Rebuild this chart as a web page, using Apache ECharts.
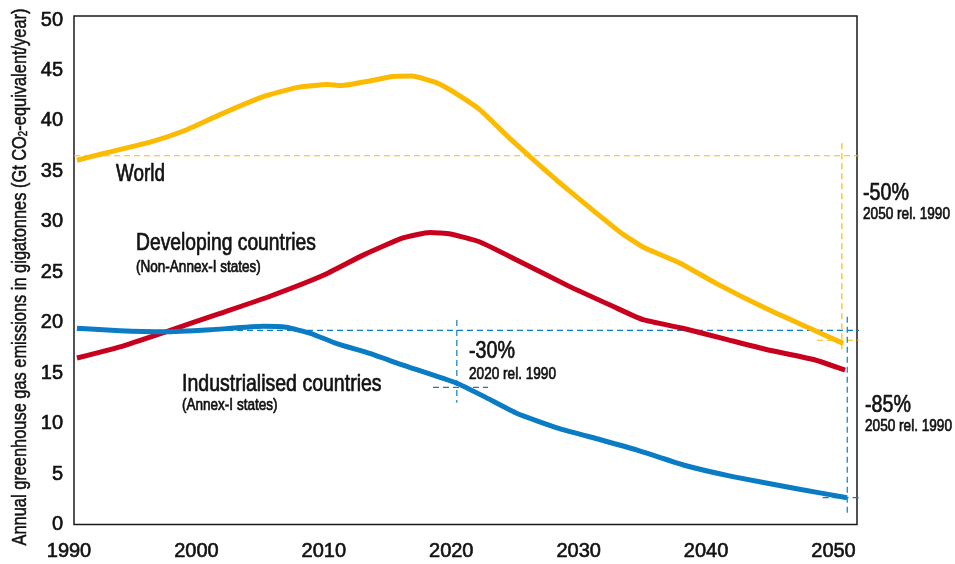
<!DOCTYPE html>
<html>
<head>
<meta charset="utf-8">
<script src="https://cdn.jsdelivr.net/npm/echarts@6/dist/echarts.min.js"></script>
<style>
html,body{margin:0;padding:0;background:#fff;}
#chart{width:955px;height:564px;}
</style>
</head>
<body>
<div id="chart"></div>
<script>
// ---- data ----
var xTickLabels = [1990, 2000, 2010, 2020, 2030, 2040, 2050];
var yTickLabels = [0, 5, 10, 15, 20, 25, 30, 35, 40, 45, 50];

var worldYears  = [1990, 1992.0, 1995.7, 1998.3, 2001.1, 2004.5, 2007.1, 2009.5, 2010.5, 2014.6, 2016.1, 2018.0, 2019.3, 2021.4, 2023.7, 2025.3, 2027.4, 2029.2, 2032.3, 2034.1, 2037.0, 2039.8, 2043.7, 2047.1, 2049.7];
var worldValues = [36.1, 36.75, 37.9, 39.0, 40.6, 42.4, 43.3, 43.6, 43.5, 44.4, 44.45, 43.8, 42.9, 41.1, 38.3, 36.45, 34.1, 32.2, 29.0, 27.5, 25.9, 23.9, 21.4, 19.45, 17.95];

var devYears  = [1990, 1993.35, 1996.7, 2001.1, 2005.0, 2009.2, 2012.3, 2015.4, 2017.5, 2019.1, 2021.4, 2024.3, 2028.2, 2031.8, 2034.1, 2037.2, 2040.6, 2043.7, 2047.4, 2049.85];
var devValues = [16.5, 17.6, 19.0, 20.9, 22.6, 24.7, 26.7, 28.4, 28.95, 28.8, 28.0, 26.2, 23.7, 21.6, 20.3, 19.45, 18.35, 17.35, 16.35, 15.3];

var indYears  = [1990, 1993.35, 1996.7, 2000.4, 2004.5, 2006.3, 2008.2, 2010.2, 2012.8, 2015.4, 2019.6, 2021.7, 2024.3, 2027.6, 2030.8, 2033.6, 2037.25, 2041.1, 2046.3, 2050.0];
var indValues = [19.45, 19.2, 19.1, 19.3, 19.65, 19.55, 18.95, 17.95, 16.95, 15.8, 14.0, 12.7, 11.0, 9.5, 8.4, 7.4, 5.9, 4.75, 3.5, 2.65];

// reference (dashed) guide lines: [x1, y1, x2, y2]
var guideYellow = [
  [1989.77, 36.55, 2051.7, 36.55],
  [2049.6, 37.8, 2049.6, 17.3],
  [2047.65, 18.26, 2052.0, 18.26]
];
var guideBlue = [
  [1990, 19.25, 2051.8, 19.25],
  [2050.02, 20.6, 2050.02, 1.15],
  [2048.1, 2.66, 2052.4, 2.66],
  [2019.6, 20.27, 2019.6, 12.07],
  [2017.74, 13.6, 2022.03, 13.6]
];

var YELLOW = '#fcba00', RED = '#c8001e', BLUE = '#0a7cc4';
var FONT = "'Liberation Sans', Arial, sans-serif";
var TXT = '#111';
var NARROW = 0.82;

function pairs(xs, ys) { return xs.map(function (x, i) { return [x, ys[i]]; }); }

var series = [];
function addGuides(list, color) {
  list.forEach(function (g) {
    series.push({
      type: 'line', xAxisIndex: 0, yAxisIndex: 0, clip: false, silent: true,
      symbol: 'none', z: 1,
      lineStyle: { color: color, width: 1.2, type: [6, 4] },
      data: [[g[0], g[1]], [g[2], g[3]]]
    });
  });
}
addGuides(guideYellow, YELLOW);
addGuides(guideBlue, BLUE);

[[worldYears, worldValues, YELLOW, 'World'],
 [devYears, devValues, RED, 'Developing countries'],
 [indYears, indValues, BLUE, 'Industrialised countries']].forEach(function (s) {
  series.push({
    type: 'line', name: s[3], xAxisIndex: 0, yAxisIndex: 0, symbol: 'none', z: 3,
    smooth: 0.15,
    lineStyle: { color: s[2], width: 5, cap: 'butt', join: 'round' },
    data: pairs(s[0], s[1])
  });
});

function txt(x, y, text, size) {
  return { type: 'text', x: x, y: y, z: 10, scaleX: NARROW,
    style: { text: text, fill: TXT, stroke: TXT, lineWidth: 0.7, font: size + 'px ' + FONT,
      textAlign: 'left', textVerticalAlign: 'middle' } };
}

var option = {
  animation: false,
  backgroundColor: '#fff',
  grid: [
    { left: 74, right: 98, top: 16, bottom: 39.5, show: true, borderColor: '#1a1a1a', borderWidth: 1.5, backgroundColor: 'transparent' },
    { left: 69, right: 121.5, top: 16, bottom: 39.5, show: false }
  ],
  xAxis: [
    { type: 'value', gridIndex: 0, min: 1989.77, max: 2050.78,
      axisLine: { show: false }, axisTick: { show: false }, axisLabel: { show: false }, splitLine: { show: false } },
    { type: 'value', gridIndex: 1, min: xTickLabels[0], max: xTickLabels[xTickLabels.length - 1], interval: 10,
      axisLine: { show: false }, axisTick: { show: false }, splitLine: { show: false },
      axisLabel: { fontSize: 20, fontFamily: FONT, color: TXT, margin: 17, textBorderColor: TXT, textBorderWidth: 0.6,
        formatter: function (v) { return xTickLabels.indexOf(v) >= 0 ? String(v) : ''; } } }
  ],
  yAxis: [
    { type: 'value', gridIndex: 0, min: 0, max: 50.4, interval: 5,
      axisLine: { show: false }, axisTick: { show: false }, splitLine: { show: false },
      axisLabel: { fontSize: 20, fontFamily: FONT, color: TXT, margin: 11, textBorderColor: TXT, textBorderWidth: 0.6,
        formatter: function (v) { return yTickLabels.indexOf(v) >= 0 ? String(v) : ''; } } },
    { type: 'value', gridIndex: 1, min: 0, max: 50, show: false }
  ],
  series: series,
  graphic: [
    { type: 'text', x: 20, y: 277, rotation: Math.PI / 2, scaleX: NARROW, z: 10,
      style: { text: 'Annual greenhouse gas emissions in gigatonnes (Gt CO{s|2}-equivalent/year)', fill: TXT,
        stroke: TXT, lineWidth: 0.5,
        font: '20px ' + FONT, textAlign: 'center', textVerticalAlign: 'middle',
        rich: { s: { fontSize: 12, fontFamily: FONT, fill: TXT, verticalAlign: 'bottom' } } } },
    txt(116, 175, 'World', 23),
    txt(136, 244, 'Developing countries', 23.5),
    txt(136, 267, '(Non-Annex-I states)', 16.5),
    txt(182, 384, 'Industrialised countries', 23.8),
    txt(182, 405, '(Annex-I states)', 16.5),
    txt(469, 351, '-30%', 24),
    txt(469, 374, '2020 rel. 1990', 16.6),
    txt(863, 193, '-50%', 24),
    txt(863, 214, '2050 rel. 1990', 16.6),
    txt(865, 405, '-85%', 24),
    txt(865, 426, '2050 rel. 1990', 16.6)
  ]
};

var chart = echarts.init(document.getElementById('chart'), null, { renderer: 'canvas' });
chart.setOption(option);
</script>
</body>
</html>
